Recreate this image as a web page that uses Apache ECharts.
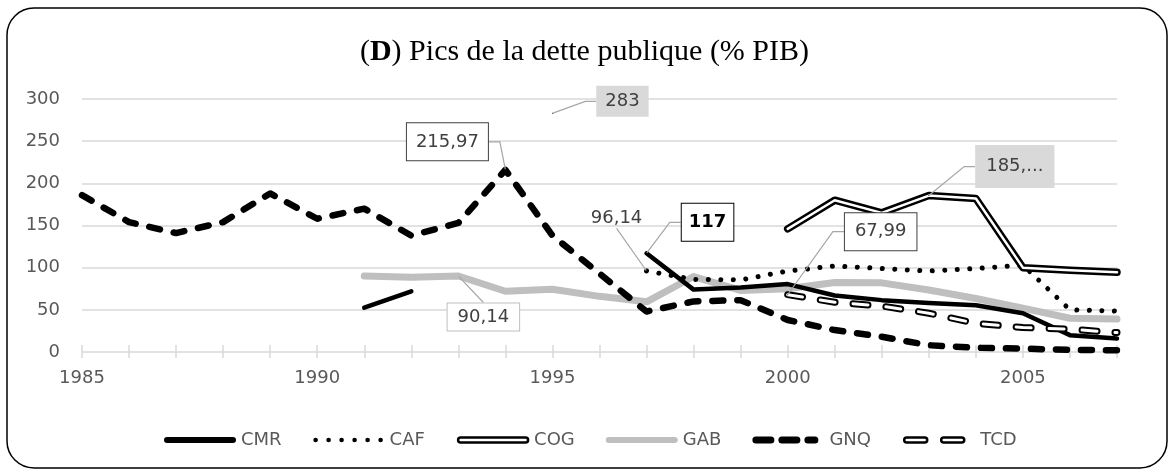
<!DOCTYPE html>
<html>
<head>
<meta charset="utf-8">
<script src="https://cdn.jsdelivr.net/npm/echarts@6/dist/echarts.min.js"></script>
<style>
  html, body { margin: 0; padding: 0; background: #fff; }
  #chart { width: 1169px; height: 470px; }
</style>
</head>
<body>
<div id="chart"></div>
<script>
// années et dette publique (% PIB)
const years = ['1985', '1986', '1987', '1988', '1989', '1990', '1991', '1992', '1993', '1994', '1995', '1996',
  '1997', '1998', '1999', '2000', '2001', '2002', '2003', '2004', '2005', '2006', '2007']

const cmr = [null, null, null, null, null, null, 52.5, 72, null, null, null, null,
  117, 74, 76.5, 80.5, 67, 61.5, 58, 55.5, 46, 20, 16]
const caf = [null, null, null, null, null, null, null, null, null, null, null, null,
  96.14, 86, 85.5, 96, 102, 99, 96, 99, 103, 50, 48.5]
const cog = [null, null, null, null, null, null, null, null, null, null, 283, null,
  null, null, null, 146, 180, 165, 185.5, 182, 100, 97, 94.5]
const gab = [null, null, null, null, null, null, 90, 88.5, 90.14, 72, 74.5, 66,
  59.5, 89.5, 73, 75, 82.5, 82, 73.5, 63.5, 52, 40, 39]
const gnq = [186, 154, 141, 154, 188, 158, 170, 138, 153, 215.97, 138, 93,
  48, 60, 61.5, 38, 26, 18, 8, 5, 4, 2.5, 2]
const tcd = [null, null, null, null, null, null, null, null, null, null, null, null,
  null, null, null, 67.99, 59, 54.5, 46, 34, 29, 27, 23]

const yTicks = [0, 50, 100, 150, 200, 250, 300]

// étiquettes de données : série, année, texte
const labelNames = ['GNQ', 'CMR', 'CAF', 'GAB', 'TCD', 'COG', 'COG']
const labelYears = ['1994', '1997', '1997', '1993', '2000', '2003', '1995']
const labelTexts = ['215,97', '117', '96,14', '90,14', '67,99', '185,...', '283']

// style des étiquettes (décalage, cadre)
const labelLook = [
  { dx: -58, dy: -28, len: 11, style: { backgroundColor: '#fff', borderColor: '#404040', borderWidth: 1, padding: [8, 9] } },
  { dx: 61, dy: -31, len: 11, style: { backgroundColor: '#fff', borderColor: '#000', borderWidth: 1, padding: [8, 7], fontWeight: 'bold', color: '#000' } },
  { dx: -30, dy: -53, len: 0, style: { padding: [0, 0] } },
  { dx: 25, dy: 41, len: 0, style: { backgroundColor: '#fff', borderColor: '#bfbfbf', borderWidth: 1, padding: [3, 10] } },
  { dx: 93, dy: -63, len: 11, style: { backgroundColor: '#fff', borderColor: '#404040', borderWidth: 1, padding: [8, 10] } },
  { dx: 86, dy: -29, len: 11, style: { backgroundColor: '#d9d9d9', padding: [11, 11] } },
  { dx: 70, dy: -12, len: 11, style: { backgroundColor: '#d9d9d9', padding: [5, 9] } }
]

const FONT = 'DejaVu Sans'

function buildData (name, values) {
  return values.map((v, i) => {
    const k = labelNames.findIndex((n, j) => n === name && labelYears[j] === years[i])
    if (k < 0 || v == null) return v
    const look = labelLook[k]
    return {
      value: v,
      symbol: 'circle',
      symbolSize: 1,
      label: Object.assign({
        show: true,
        position: 'inside',
        formatter: labelTexts[k],
        fontFamily: FONT,
        fontSize: 18,
        lineHeight: 21,
        color: '#404040'
      }, look.style),
      labelLine: { show: true, length2: look.len, lineStyle: { color: '#a6a6a6', width: 1.2 } }
    }
  })
}

function lineSeries (name, values, lineStyle, extra) {
  return Object.assign({
    type: 'line',
    name: name,
    data: buildData(name, values),
    symbol: 'none',
    showSymbol: true,
    showAllSymbol: true,
    connectNulls: false,
    lineStyle: Object.assign({ cap: 'round', join: 'round' }, lineStyle),
    itemStyle: { color: lineStyle.color },
    emphasis: { disabled: true },
    labelLayout: p => {
      const series = option.series[p.seriesIndex]
      const k = labelNames.findIndex((n, j) => n === series.name && labelYears[j] === years[p.dataIndex])
      return k < 0 ? {} : { dx: labelLook[k].dx, dy: labelLook[k].dy }
    }
  }, extra || {})
}

// pictogrammes de la légende (cadre 72 x 8)
function capsule (a, b, t, bot) {
  const r = (bot - t) / 2
  return `M${a + r} ${t}H${b - r}A${r} ${r} 0 0 1 ${b - r} ${bot}H${a + r}A${r} ${r} 0 0 1 ${a + r} ${t}Z`
}
function dot (x, r) {
  return `M${x - r} 4A${r} ${r} 0 1 0 ${x + r} 4A${r} ${r} 0 1 0 ${x - r} 4Z`
}
const BOX = 'M0 0M72 8'
const icons = {
  solid: 'path://' + BOX + capsule(0, 72, 1, 7),
  dots: 'path://' + BOX + [3, 16, 29, 42, 55, 68].map(x => dot(x, 2.3)).join(''),
  double: 'path://' + BOX + capsule(1, 71, 1.5, 6.5),
  dashes: 'path://' + BOX + capsule(0, 22, 0.5, 7.5) + capsule(26, 48, 0.5, 7.5) + capsule(52, 66, 0.5, 7.5),
  doubleDash: 'path://' + BOX + capsule(1, 24, 1.5, 6.5) + capsule(38, 61, 1.5, 6.5)
}

const chart = echarts.init(document.getElementById('chart'))

const option = {
  animation: false,
  backgroundColor: '#fff',
  title: {
    text: '({b|D}) Pics de la dette publique (% PIB)',
    left: 'center',
    top: 32,
    textStyle: {
      fontFamily: 'Liberation Serif',
      fontSize: 30,
      fontWeight: 'normal',
      color: '#000',
      rich: {
        b: { fontFamily: 'Liberation Serif', fontSize: 30, fontWeight: 'bold', color: '#000' }
      }
    }
  },
  legend: {
    left: 159,
    top: 426,
    itemWidth: 72,
    itemHeight: 8,
    itemGap: 31,
    symbolKeepAspect: false,
    selectedMode: false,
    textStyle: { fontFamily: FONT, fontSize: 18, color: '#595959' },
    data: [
      { name: 'CMR', icon: icons.solid, itemStyle: { color: '#000', borderWidth: 0 } },
      { name: 'CAF', icon: icons.dots, itemStyle: { color: '#000', borderWidth: 0 } },
      { name: 'COG', icon: icons.double, itemStyle: { color: '#fff', borderColor: '#000', borderWidth: 2.5 } },
      { name: 'GAB', icon: icons.solid, itemStyle: { color: '#bfbfbf', borderWidth: 0 } },
      { name: 'GNQ', icon: icons.dashes, itemStyle: { color: '#000', borderWidth: 0 } },
      { name: 'TCD', icon: icons.doubleDash, itemStyle: { color: '#fff', borderColor: '#000', borderWidth: 2.5 } }
    ]
  },
  grid: { left: 82, right: 52, top: 99, bottom: 118, outerBoundsMode: 'none' },
  xAxis: {
    type: 'category',
    data: years,
    boundaryGap: false,
    offset: -7,
    axisLine: { show: false },
    axisTick: { show: true, interval: 0, length: 13, lineStyle: { color: '#d9d9d9', width: 1.5 } },
    axisLabel: { interval: 4, margin: 24, fontFamily: FONT, fontSize: 18, color: '#595959' },
    splitLine: { show: false }
  },
  yAxis: {
    type: 'value',
    min: yTicks[0],
    max: yTicks[yTicks.length - 1],
    interval: yTicks[1] - yTicks[0],
    axisLine: { show: false },
    axisTick: { show: false },
    axisLabel: { margin: 22, fontFamily: FONT, fontSize: 18, color: '#595959' },
    splitLine: { lineStyle: { color: '#d9d9d9', width: 1.5 } }
  },
  graphic: [{
    type: 'rect',
    silent: true,
    shape: { x: 7, y: 8, width: 1160, height: 460, r: 27 },
    style: { fill: 'none', stroke: '#000', lineWidth: 1.5 }
  }],
  series: [
    lineSeries('GAB', gab, { color: '#bfbfbf', width: 7 }),
    lineSeries('CMR', cmr, { color: '#000', width: 4.5 }),
    lineSeries('CAF', caf, { color: '#000', width: 5, type: [0.01, 12.5] }),
    lineSeries('TCD', tcd, { color: '#000', width: 7, type: [15, 18] }),
    lineSeries('TCD ', tcd, { color: '#fff', width: 3, type: [15, 18] }, { silent: true, data: tcd }),
    lineSeries('GNQ', gnq, { color: '#000', width: 6.5, type: [11, 14] }),
    lineSeries('COG', cog, { color: '#000', width: 7.5 }),
    lineSeries('COG ', cog, { color: '#fff', width: 2.5 }, { silent: true, data: cog })
  ]
}

chart.setOption(option)
</script>
</body>
</html>
